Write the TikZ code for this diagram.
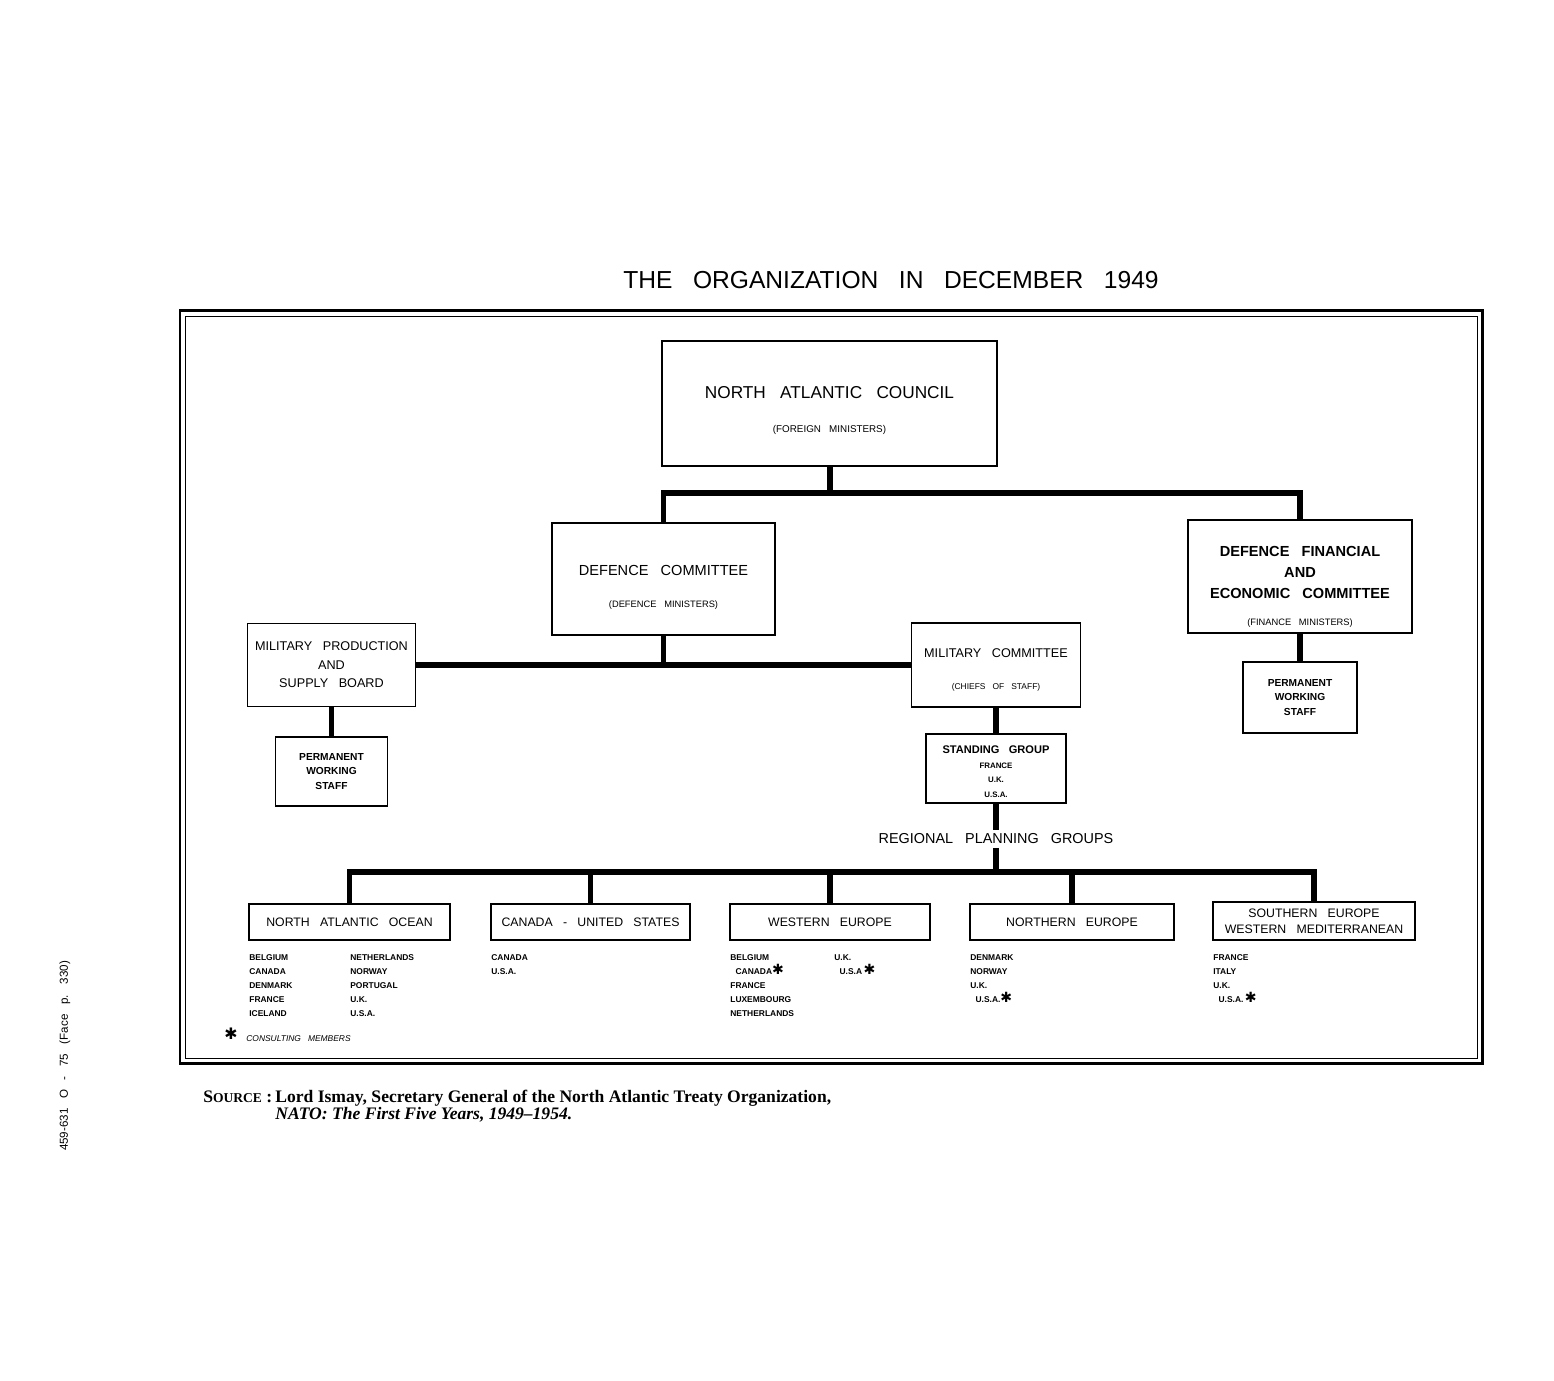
\documentclass[tikz,border=0pt]{standalone}
\usepackage{fontspec}
\setmainfont{Liberation Serif}
\newfontfamily\lettering{Liberation Sans}[WordSpace=3]
\newfontfamily\symfont{DejaVu Sans}
\newcommand{\consult}{\smash{\symfont\fontsize{8}{8}\selectfont ✱}}

\begin{document}
\begin{tikzpicture}[x=0.02cm, y=-0.02cm, font=\lettering,
    box/.style={draw, line width=1.1pt, align=center, inner sep=0pt},
    link/.style={line width=3.4pt},
    lst/.style={anchor=north west, align=left, inner sep=0pt, font=\lettering\bfseries\fontsize{4.8}{8}\selectfont}]
        \useasboundingbox (0,0) rectangle (1554,1380);

        % Title and frame
        \node[font=\lettering\fontsize{14}{16}\selectfont] (title) at (891,280) {THE ORGANIZATION IN DECEMBER 1949};
        \draw[line width=1.7pt] (180,310) rectangle (1482,1063);
        \draw[line width=0.5pt] (185,316) rectangle (1477,1058);

        % Council and committees
        \node[box, minimum width=6.7cm, minimum height=2.5cm, font=\lettering\fontsize{9.8}{12}\selectfont] (nac) at (829.5,403.5)
            {\rule{0pt}{15pt}NORTH ATLANTIC COUNCIL\\[7.7pt]{\fontsize{5.6}{6}\selectfont (FOREIGN MINISTERS)}};
        \node[box, minimum width=4.46cm, minimum height=2.24cm, font=\lettering\fontsize{8.3}{11}\selectfont] (dc) at (663.5,579)
            {\rule{0pt}{15pt}DEFENCE COMMITTEE\\[7pt]{\fontsize{5.3}{6}\selectfont (DEFENCE MINISTERS)}};
        \node[box, minimum width=4.48cm, minimum height=2.26cm, font=\lettering\bfseries\fontsize{8.3}{12}\selectfont] (dfec) at (1300,576.5)
            {\rule{0pt}{17.5pt}DEFENCE FINANCIAL\\AND\\ECONOMIC COMMITTEE\\[3pt]{\mdseries\fontsize{5.3}{6}\selectfont (FINANCE MINISTERS)}};
        \node[box, minimum width=3.36cm, minimum height=1.66cm, font=\lettering\fontsize{7.2}{10.5}\selectfont] (mpsb) at (331.5,665)
            {MILITARY PRODUCTION\\AND\\SUPPLY BOARD};
        \node[box, minimum width=3.38cm, minimum height=1.68cm, font=\lettering\fontsize{7.2}{9}\selectfont] (mc) at (996,665)
            {\rule{0pt}{10.4pt}MILITARY COMMITTEE\\[9.3pt]{\fontsize{4.8}{6}\selectfont (CHIEFS OF STAFF)}};

        % Working staffs
        \node[box, minimum width=2.24cm, minimum height=1.38cm, font=\lettering\bfseries\fontsize{5.8}{8.3}\selectfont] (pwsl) at (331.5,771.5)
            {PERMANENT\\WORKING\\STAFF};
        \node[box, minimum width=2.28cm, minimum height=1.42cm, font=\lettering\bfseries\fontsize{5.8}{8.3}\selectfont] (pwsr) at (1300,697.5)
            {PERMANENT\\WORKING\\STAFF};
        \node[box, minimum width=2.8cm, minimum height=1.38cm, font=\lettering\bfseries\fontsize{6.3}{8.5}\selectfont] (sg) at (996,768.5)
            {\rule{0pt}{8pt}STANDING GROUP\\{\fontsize{4.5}{5}\selectfont FRANCE}\\{\fontsize{4.5}{5}\selectfont U.K.}\\{\fontsize{4.5}{5}\selectfont U.S.A.}};
        \node[fill=white, inner sep=2pt, font=\lettering\fontsize{8.2}{9}\selectfont] (rpg) at (996,839) {REGIONAL PLANNING GROUPS};

        % Regional planning groups
        \node[box, minimum width=4.02cm, minimum height=0.72cm, font=\lettering\fontsize{7}{9}\selectfont] (nao) at (349.5,922) {NORTH ATLANTIC OCEAN};
        \node[box, minimum width=3.98cm, minimum height=0.72cm, font=\lettering\fontsize{7}{9}\selectfont] (cus) at (590.5,922) {CANADA - UNITED STATES};
        \node[box, minimum width=4.0cm, minimum height=0.72cm, font=\lettering\fontsize{7}{9}\selectfont] (we) at (830,922) {WESTERN EUROPE};
        \node[box, minimum width=4.08cm, minimum height=0.72cm, font=\lettering\fontsize{7}{9}\selectfont] (ne) at (1072,922) {NORTHERN EUROPE};
        \node[box, minimum width=4.04cm, minimum height=0.76cm, font=\lettering\fontsize{7}{9}\selectfont] (se) at (1314,921) {SOUTHERN EUROPE\\WESTERN MEDITERRANEAN};

        % Connectors
        \coordinate (j1) at (829.5,493);
        \coordinate (j2) at (996,872);
        \draw[link] (nac.south) -- (j1);
        \draw[link] (dc.north) |- (j1) -| (dfec.north);
        \draw[link] (dc.south) -- (dc.south |- mpsb.east);
        \draw[link] (mpsb.east) -- (mc.west);
        \draw[link] (mpsb.south) -- (pwsl.north);
        \draw[link] (dfec.south) -- (pwsr.north);
        \draw[link] (mc.south) -- (sg.north);
        \draw[link] (sg.south) -- (rpg.north);
        \draw[link] (rpg.south) -- (j2);
        \draw[link] (nao.north) |- (j2) -| (se.north);
        \foreach \n in {cus,we,ne}
            \draw[link] (\n.north) -- (\n.north |- j2);

        % Member countries
        \node[lst] (naoa) at (249,954) {BELGIUM\\CANADA\\DENMARK\\FRANCE\\ICELAND};
        \node[lst] (naob) at (350,954) {NETHERLANDS\\NORWAY\\PORTUGAL\\U.K.\\U.S.A.};
        \node[lst] (cusa) at (491,954) {CANADA\\U.S.A.};
        \node[lst] (wea) at (730,954) {BELGIUM\\\hspace*{3pt}CANADA\consult\\FRANCE\\LUXEMBOURG\\NETHERLANDS};
        \node[lst] (web) at (834,954) {U.K.\\\hspace*{3pt}U.S.A\,\consult};
        \node[lst] (nea) at (970,954) {DENMARK\\NORWAY\\U.K.\\\hspace*{3pt}U.S.A.\consult};
        \node[lst] (sea) at (1213,954) {FRANCE\\ITALY\\U.K.\\\hspace*{3pt}U.S.A.\,\consult};
        \node[inner sep=0pt, font=\symfont\fontsize{9}{9}\selectfont] (star) at (231,1034) {✱};
        \node[anchor=west, inner sep=0pt, font=\lettering\itshape\fontsize{4.8}{6}\selectfont] (legend) at (246,1039) {CONSULTING MEMBERS};

        % Source
        \node[anchor=north west, inner sep=0pt, font=\rmfamily\bfseries\fontsize{10}{9.4}\selectfont] (srclabel) at (203,1090)
            {S{\fontsize{7.7}{8}\selectfont OURCE} :};
        \node[anchor=north west, inner sep=0pt, align=left, font=\rmfamily\bfseries\fontsize{10}{9.4}\selectfont] (src) at (275,1090)
            {Lord Ismay, Secretary General of the North Atlantic Treaty Organization,\\\textit{NATO: The First Five Years, 1949--1954.}};
        \node[rotate=90, font=\lettering\fontsize{6.6}{8}\selectfont] (facep) at (65,1056) {459-631 O - 75 (Face p. 330)};

\end{tikzpicture}
\end{document}
